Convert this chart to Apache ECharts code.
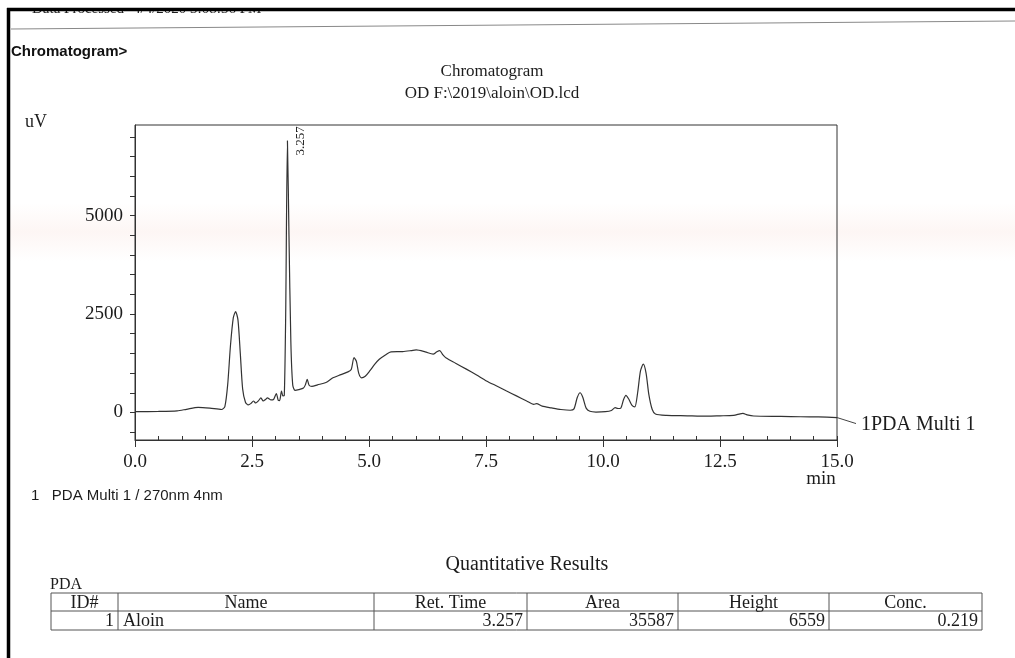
<!DOCTYPE html>
<html>
<head>
<meta charset="utf-8">
<script src="https://cdn.jsdelivr.net/npm/echarts@6/dist/echarts.min.js"></script>
<style>
  html, body { margin: 0; padding: 0; background: #fff; }
  #chart { width: 1015px; height: 658px; }
</style>
</head>
<body>
<div id="chart"></div>
<script>
// Retention time (min) and detector response (uV) of the PDA trace
const times = [
  0.00, 0.50, 0.90, 1.10, 1.35, 1.60, 1.85, 1.92, 1.98, 2.04, 2.10, 2.15, 2.20, 2.25, 2.30,
  2.36, 2.42, 2.48, 2.53, 2.58, 2.64, 2.69, 2.74, 2.79, 2.83, 2.90, 2.96, 3.02, 3.06, 3.09,
  3.13, 3.16, 3.19, 3.22, 3.257, 3.29, 3.33, 3.37, 3.42, 3.50, 3.60, 3.64, 3.68, 3.72, 3.78,
  3.90, 4.08, 4.23, 4.40, 4.55, 4.62, 4.68, 4.73, 4.78, 4.84, 4.92, 5.02, 5.12, 5.22, 5.35,
  5.47, 5.72, 5.90, 6.01, 6.20, 6.37, 6.45, 6.51, 6.58, 6.65, 6.85, 7.08, 7.30, 7.51, 7.75,
  7.94, 8.15, 8.37, 8.52, 8.58, 8.70, 8.90, 9.10, 9.30, 9.38, 9.45, 9.51, 9.57, 9.64, 9.72,
  9.85, 10.05, 10.18, 10.26, 10.32, 10.38, 10.44, 10.49, 10.55, 10.62, 10.68, 10.74, 10.80, 10.86, 10.92,
  10.98, 11.05, 11.12, 11.36, 11.80, 12.08, 12.50, 12.79, 12.93, 12.99, 13.08, 13.22, 13.80, 14.22, 14.60,
  15.00
];
const signal = [
  20, 25, 40, 80, 130, 110, 75, 150, 700, 1700, 2400, 2560, 2350, 1500, 600,
  260, 190, 230, 290, 240, 300, 370, 290, 330, 370, 320, 330, 480, 310, 300,
  540, 420, 430, 2500, 6900, 4500, 1800, 700, 560, 580, 620, 700, 840, 690, 660,
  700, 760, 880, 960, 1030, 1090, 1390, 1300, 1000, 880, 920, 1060, 1220, 1350, 1460,
  1540, 1545, 1570, 1590, 1540, 1480, 1540, 1570, 1460, 1380, 1250, 1100, 950, 800, 660,
  545, 420, 290, 205, 225, 160, 115, 75, 55, 90, 380, 500, 380, 110, 30,
  10, 20, 50, 120, 100, 110, 330, 435, 340, 180, 140, 500, 1050, 1225, 1000,
  450, 80, -40, -75, -85, -95, -85, -75, -35, -25, -60, -90, -100, -110, -115,
  -130
];

// Axis ticks and labels
const xMinorTicks = [0, 0.5, 1, 1.5, 2, 2.5, 3, 3.5, 4, 4.5, 5, 5.5, 6, 6.5, 7, 7.5, 8, 8.5, 9, 9.5, 10, 10.5, 11, 11.5, 12, 12.5, 13, 13.5, 14, 14.5, 15];
const xLabels = [0, 2.5, 5, 7.5, 10, 12.5, 15];
const yTicks = [-500, 0, 500, 1000, 1500, 2000, 2500, 3000, 3500, 4000, 4500, 5000, 5500, 6000, 6500, 7000];
const yLabels = [0, 2500, 5000];

// Identified peak
const peakRetTime = 3.257;

// Quantitative results table
const tableHeaders = ['ID#', 'Name', 'Ret. Time', 'Area', 'Height', 'Conc.'];
const tableRow = ['1', 'Aloin', '3.257', '35587', '6559', '0.219'];

const SERIF = '"Liberation Serif", "DejaVu Serif", serif';
const SANS = '"Liberation Sans", Arial, sans-serif';
const INK = '#1c1c1c';

const traceData = times.map((t, i) => [t, signal[i]]);
const peakValue = signal[times.indexOf(peakRetTime)];

// Table layout
const colEdges = [51, 118, 374, 527, 678, 829, 982];
const rowEdges = [593, 611, 630];
const tableGraphics = [];
rowEdges.forEach((y) => {
  tableGraphics.push({ type: 'line', shape: { x1: colEdges[0], y1: y, x2: colEdges[colEdges.length - 1], y2: y },
    style: { stroke: '#555', lineWidth: 1 } });
});
colEdges.forEach((x) => {
  tableGraphics.push({ type: 'line', shape: { x1: x, y1: rowEdges[0], x2: x, y2: rowEdges[2] },
    style: { stroke: '#555', lineWidth: 1 } });
});
tableHeaders.forEach((h, i) => {
  tableGraphics.push({ type: 'text', x: (colEdges[i] + colEdges[i + 1]) / 2, y: (rowEdges[0] + rowEdges[1]) / 2 + 1,
    style: { text: h, fill: INK, font: '18px ' + SERIF, textAlign: 'center', textVerticalAlign: 'middle' } });
});
tableRow.forEach((v, i) => {
  const left = i === 1;
  tableGraphics.push({ type: 'text', x: left ? colEdges[i] + 5 : colEdges[i + 1] - 4, y: (rowEdges[1] + rowEdges[2]) / 2 + 1,
    style: { text: v, fill: INK, font: '18px ' + SERIF, textAlign: left ? 'left' : 'right', textVerticalAlign: 'middle' } });
});

const pageGraphics = [
  // faint pink streak across the sheet
  { type: 'rect', z: -10, shape: { x: 10, y: 203, width: 1005, height: 58 },
    style: { fill: { type: 'linear', x: 0, y: 0, x2: 0, y2: 1, colorStops: [
      { offset: 0, color: 'rgba(246,214,206,0)' },
      { offset: 0.5, color: 'rgba(246,214,206,0.22)' },
      { offset: 1, color: 'rgba(246,214,206,0)' }] } } },
  // header row, mostly hidden under the frame
  { type: 'text', x: 32, y: 17, style: { text: 'Data Processed', fill: INK, font: '15px ' + SERIF, textVerticalAlign: 'bottom' } },
  { type: 'text', x: 133, y: 17, style: { text: '4/4/2020 3:08:36 PM', fill: INK, font: '15px ' + SERIF, textVerticalAlign: 'bottom' } },
  { type: 'rect', shape: { x: 0, y: 0, width: 1015, height: 9 }, style: { fill: '#fff' } },
  { type: 'line', shape: { x1: 7, y1: 9.5, x2: 1015, y2: 9.5 }, style: { stroke: '#000', lineWidth: 3.5 } },
  { type: 'line', shape: { x1: 8.5, y1: 8, x2: 8.5, y2: 658 }, style: { stroke: '#000', lineWidth: 3.5 } },
  { type: 'line', shape: { x1: 11, y1: 29, x2: 1015, y2: 21 }, style: { stroke: '#888', lineWidth: 1 } },
  { type: 'text', x: 11, y: 52, style: { text: 'Chromatogram>', fill: '#111', font: 'bold 15px ' + SANS, textVerticalAlign: 'middle' } },
  { type: 'text', x: 25, y: 122, style: { text: 'uV', fill: INK, font: '18px ' + SERIF, textVerticalAlign: 'middle' } },
  { type: 'text', x: 821, y: 479, style: { text: 'min', fill: INK, font: '19px ' + SERIF, textAlign: 'center', textVerticalAlign: 'middle' } },
  { type: 'text', x: 31, y: 496, style: { text: '1   PDA Multi 1 / 270nm 4nm', fill: INK, font: '15px ' + SANS, textVerticalAlign: 'middle' } },
  { type: 'text', x: 527, y: 565, style: { text: 'Quantitative Results', fill: INK, font: '20px ' + SERIF, textAlign: 'center', textVerticalAlign: 'middle' } },
  { type: 'text', x: 50, y: 585, style: { text: 'PDA', fill: INK, font: '16px ' + SERIF, textVerticalAlign: 'middle' } }
].concat(tableGraphics);

const chart = echarts.init(document.getElementById('chart'), null, { renderer: 'canvas' });

const option = {
  backgroundColor: '#fff',
  animation: false,
  title: {
    text: 'Chromatogram\nOD F:\\2019\\aloin\\OD.lcd',
    left: 487,
    top: 56,
    textAlign: 'center',
    textStyle: { fontFamily: SERIF, fontSize: 17, fontWeight: 'normal', color: INK, lineHeight: 22 }
  },
  grid: {
    left: 135, top: 125, width: 702, height: 315,
    show: true, borderColor: '#333', borderWidth: 1, backgroundColor: 'transparent'
  },
  xAxis: [
    {
      type: 'value', min: 0, max: 15, position: 'bottom',
      axisLine: { show: true, onZero: false, lineStyle: { color: '#333', width: 1 } },
      axisTick: { show: true, inside: true, length: 4, customValues: xMinorTicks, lineStyle: { color: '#333' } },
      axisLabel: { show: false },
      splitLine: { show: false }
    },
    {
      type: 'value', min: 0, max: 15, position: 'bottom',
      axisLine: { show: false, onZero: false },
      axisTick: { show: true, inside: false, length: 7, customValues: xLabels, lineStyle: { color: '#333' } },
      axisLabel: {
        show: true, customValues: xLabels, margin: 13,
        formatter: (v) => v.toFixed(1),
        fontFamily: SERIF, fontSize: 19, color: INK
      },
      splitLine: { show: false }
    }
  ],
  yAxis: {
    type: 'value', min: -700, max: 7300,
    axisLine: { show: true, onZero: false, lineStyle: { color: '#333', width: 1 } },
    axisTick: { show: true, inside: false, length: 5, customValues: yTicks, lineStyle: { color: '#333' } },
    axisLabel: {
      show: true, customValues: yLabels, margin: 12,
      formatter: (v) => String(v),
      fontFamily: SERIF, fontSize: 19, color: INK
    },
    splitLine: { show: false }
  },
  series: [{
    name: '1PDA Multi 1',
    type: 'line',
    xAxisIndex: 0,
    data: traceData,
    showSymbol: false,
    symbol: 'none',
    smooth: 0.25,
    lineStyle: { color: '#333', width: 1.2 },
    z: 3,
    markPoint: {
      symbol: 'circle',
      symbolSize: 1,
      itemStyle: { color: 'rgba(0,0,0,0)' },
      data: [{
        coord: [peakRetTime, peakValue],
        label: {
          show: true,
          formatter: String(peakRetTime),
          position: 'inside',
          offset: [0, 13],
          rotate: 90,
          fontFamily: SERIF,
          fontSize: 13,
          color: INK
        }
      }]
    }
  }],
  graphic: { elements: pageGraphics }
};

chart.setOption(option);

// Trace name with a leader line starting at the last sample of the trace
const endPt = chart.convertToPixel({ seriesIndex: 0 }, [times[times.length - 1], signal[signal.length - 1]]);
chart.setOption({
  graphic: {
    elements: pageGraphics.concat([
      { type: 'line', shape: { x1: endPt[0], y1: endPt[1], x2: endPt[0] + 19, y2: endPt[1] + 6 },
        style: { stroke: '#444', lineWidth: 1 } },
      { type: 'text', x: endPt[0] + 24, y: endPt[1] + 7,
        style: { text: '1PDA Multi 1', fill: INK, font: '20px ' + SERIF, textVerticalAlign: 'middle' } }
    ])
  }
});
</script>
</body>
</html>
